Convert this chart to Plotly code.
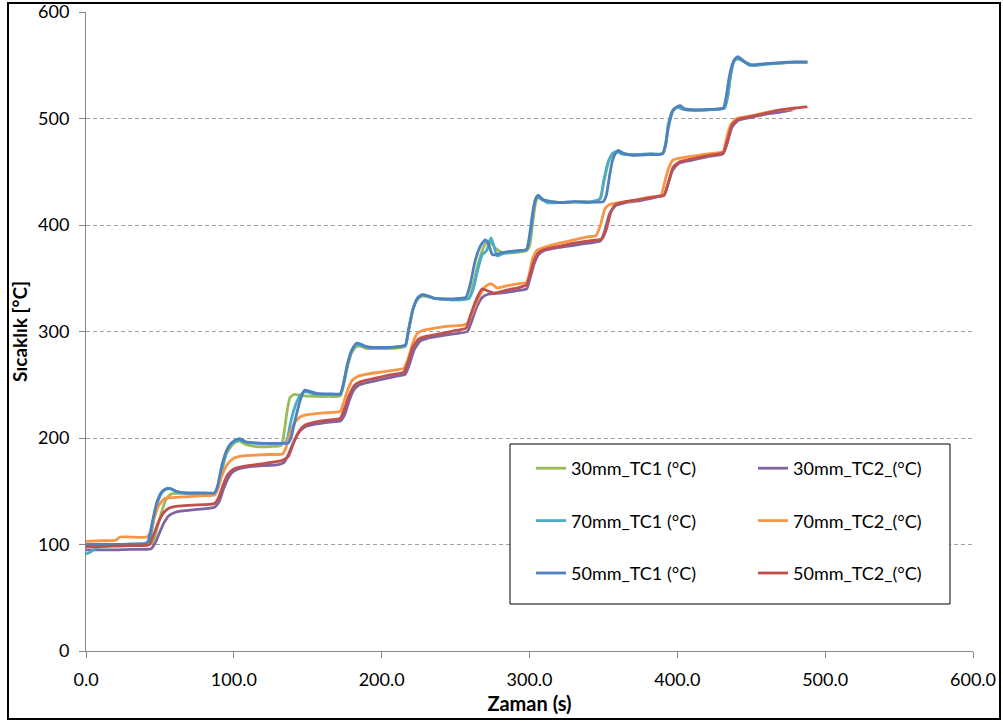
import plotly.graph_objects as go

# ---- data (time s, temperature °C) ----
tc1_30mm = [(0,99),(10,99),(20,99),(30,99.5),(40,100),(45,102),(48,115),(51,130),(54,142),(57,147),(60,148),(65,148),(75,147.5),(87,148),
            (89,152),(92,170),(95,185),(98,192),(101,196),(104,197),(108,194),(115,192),(125,192),(132,193),(134,205),(136,225),(138,238),
            (141,241),(145,240),(155,239),(165,239),(172,239.5),(174,248),(177,268),(180,281),(183,286),(186,286),(190,284),(200,284),
            (210,284.5),(216,286),(218,300),(221,320),(224,330),(227,333),(230,333),(236,331),(245,330),(255,330),(259,331),(262,345),
            (265,362),(268,376),(270,382),(272,385),(274,383),(277,378),(282,374),(290,374),(298,376),(300,380),(302,400),(304,420),
            (306,427),(309,424),(315,422),(325,421),(335,422),(346,422),(348,426),(351,445),(354,462),(357,467),(360,469),(364,467),
            (370,466),(380,466),(390,467),(392,475),(394,495),(397,508),(400,511),(403,509),(408,508),(418,508),(428,509),(432,510),
            (434,520),(436,540),(438,553),(440,556),(443,555),(447,552),(452,550),(460,551),(470,552),(480,553),(488,553)]

tc2_30mm = [(0,95),(10,95),(20,95),(30,95.5),(40,95.5),(44,96),(47,102),(50,112),(53,121),(56,127),(60,130),(65,131.5),(75,133),
            (87,135),(90,140),(93,152),(96,162),(99,168),(103,171),(110,173),(120,174),(130,175),(134,177),(137,185),(141,198),
            (145,207),(149,211),(155,213),(165,215),(172,216),(175,222),(178,235),(181,245),(185,250),(190,252),(200,255),(210,258),
            (216,260),(219,270),(222,283),(226,291),(232,294),(240,296),(250,298),(258,300),(261,310),(264,322),(268,332),(272,335),
            (280,336),(290,338),(298,340),(300,348),(303,363),(306,372),(310,376),(320,379),(330,381),(340,383),(348,385),(351,395),
            (354,410),(358,418),(365,421),(375,423),(385,426),(391,428),(394,440),(397,452),(401,458),(410,461),(420,464),(431,467),
            (434,478),(437,492),(441,498),(450,501),(460,504),(470,506),(478,508)]

tc1_70mm = [(0,91),(3,93),(6,96),(10,98),(20,99.5),(30,100),(40,100),(43,104),(46,125),(49,142),(52,150),(55,153),(58,152),(62,149),
            (70,148),(80,148),(87,148),(89,153),(92,172),(95,187),(98,194),(101,197),(104,198),(108,196),(115,195),(125,195),(134,195),
            (136,198),(138,212),(141,228),(144,238),(147,243),(150,243),(155,241),(165,241),(172,241),(174,250),(177,270),(180,283),
            (183,288),(186,287),(190,285.5),(200,285),(210,285.5),(216,287),(218,300),(221,320),(224,330),(227,334),(230,334),(236,331),
            (245,330),(255,330),(259,331),(262,340),(265,358),(268,372),(271,376),(274,388),(276,380),(278,371),(282,373),(290,375),
            (298,377),(301,395),(303,418),(305,427),(308,424),(312,421),(320,421),(330,422),(340,421),(348,425),(350,440),(353,458),
            (356,467),(359,469),(362,467),(366,466),(372,466),(382,467),(390,467),(392,475),(394,495),(397,508),(400,511),(403,509),
            (408,508),(418,508),(428,509),(432,510),(434,520),(436,540),(438,553),(440,556),(443,555),(447,552),(452,550),(460,551),
            (470,552),(480,553),(488,553)]

tc2_70mm = [(0,103),(10,103.5),(20,104),(23,107),(30,107),(41,107),(43,110),(46,124),(49,136),(53,143),(58,144),(70,145),(80,146),
            (87,146.5),(89,152),(92,165),(96,176),(100,181),(105,183),(115,184),(125,184.5),(133,185),(135,190),(138,204),(141,214),
            (145,220),(150,222),(160,223.5),(172,225),(174,232),(177,245),(180,254),(184,258),(190,260),(200,262),(210,264),(215,265.5),
            (218,275),(221,289),(224,298),(228,301),(235,303),(245,305),(255,306),(258,308),(262,320),(266,333),(270,342),(274,345),
            (278,341),(285,343),(293,345),(298,346),(300,355),(302,368),(305,376),(310,379),(320,383),(330,386),(340,389),(345,390),
            (348,400),(351,415),(354,419),(360,421),(370,423),(380,426),(389,428),(391,438),(394,453),(397,461),(403,463),(412,465),
            (422,467),(431,469),(433,480),(436,494),(440,500),(448,502),(458,505),(470,508),(480,509)]

tc1_50mm = [(0,100),(10,100),(20,100),(30,100.5),(40,101),(42,103),(45,122),(48,140),(51,149),(54,152),(57,152.5),(61,150),(68,148.5),
            (78,148.5),(87,148.5),(89,155),(92,175),(95,188),(98,195),(101,198),(104,199.5),(108,196.5),(115,195.5),(125,195),(137,195.5),
            (139,202),(142,220),(145,236),(148,245),(151,244),(156,242),(165,241.5),(172,241.5),(174,250),(177,270),(180,283),(183,289),
            (186,288),(190,285.5),(200,285),(210,285.5),(216,287),(218,300),(221,320),(224,331),(227,334.5),(230,334),(236,331),
            (245,330.5),(252,331),(257,332),(260,345),(263,365),(266,378),(268,383),(270,386),(272,383),(275,372),(279,373),(285,375),
            (292,376),(298,377),(300,390),(302,410),(304,424),(306,428),(309,424),(315,422),(322,421),(330,422),(340,421.5),(350,422),
            (352,428),(354,445),(356,460),(358,467),(360,470),(364,467),(370,465.5),(380,466),(390,467),(392,475),(394,492),(397,507),
            (400,511),(402,512),(405,509),(412,508),(422,508.5),(431,509.5),(433,520),(435,538),(437,550),(439,556),(441,558),(444,555),
            (449,550),(455,551),(465,552),(475,553),(488,553)]

tc2_50mm = [(0,98),(10,98),(20,98.5),(30,99),(40,99),(43,100),(46,110),(49,121),(52,129),(56,134),(62,136),(72,137),(87,138.5),
            (90,145),(93,157),(96,166),(100,171),(105,173),(115,175),(125,177),(133,179),(137,183),(140,194),(144,206),(148,212),
            (155,215),(165,217),(172,218.5),(175,228),(178,240),(182,250),(186,253),(195,256),(205,259),(215,262),(218,272),(221,285),
            (225,293),(230,295.5),(240,298),(250,301),(257,303),(260,315),(264,330),(268,340),(272,338),(276,336),(285,339),(292,341),
            (298,344),(300,352),(303,366),(306,374),(310,377),(320,380),(330,383),(340,385),(349,387),(352,396),(355,412),(358,419),
            (365,422),(375,424),(385,426.5),(391,428),(394,440),(397,454),(401,459),(410,462),(420,465),(431,468),(434,480),(437,494),
            (441,499),(450,502),(460,505),(470,508),(480,510),(488,511)]

series_names = ["30mm_TC1 (°C)", "30mm_TC2_(°C)", "70mm_TC1 (°C)", "70mm_TC2_(°C)", "50mm_TC1 (°C)", "50mm_TC2_(°C)"]
series_data = [tc1_30mm, tc2_30mm, tc1_70mm, tc2_70mm, tc1_50mm, tc2_50mm]
series_colors = ["#9BBB59", "#8064A2", "#4BACC6", "#F79646", "#4F81BD", "#C0504D"]
series_legend = ["legend", "legend2", "legend", "legend2", "legend", "legend2"]

x_ticks = [0, 100, 200, 300, 400, 500, 600]
y_ticks = [0, 100, 200, 300, 400, 500, 600]

FONT = "Lato"

fig = go.Figure()
for name, data, color, leg in zip(series_names, series_data, series_colors, series_legend):
    t = [p[0] for p in data]
    v = [p[1] for p in data]
    fig.add_trace(go.Scatter(x=t, y=v, mode="lines", name=name, legend=leg, legendgroup=name,
                             line=dict(color=color, width=2.8, shape="spline", smoothing=0.5)))

# plot area pixel geometry
L, R, T, B = 86, 30, 12, 72
W, H = 1003, 723
pw, ph = W - L - R, H - T - B

def px(xpix):
    return (xpix - L) / pw

def py(ypix):
    return (H - B - ypix) / ph

fig.update_layout(
    width=W, height=H,
    margin=dict(l=L, r=R, t=T, b=B, pad=0, autoexpand=False),
    paper_bgcolor="white", plot_bgcolor="white",
    font=dict(family=FONT, size=18, color="black"),
    xaxis=dict(range=[0, 600], tickvals=x_ticks, tickformat=".1f", automargin=False,
               showline=True, linecolor="#868686", linewidth=1,
               ticks="outside", ticklen=6, tickcolor="#868686",
               showgrid=False, zeroline=False, ticklabelstandoff=6,
               title=dict(text="<b>Zaman (s)</b>", font=dict(size=20, family=FONT), standoff=8)),
    yaxis=dict(range=[0, 600], tickvals=y_ticks, automargin=False,
               showline=True, linecolor="#868686", linewidth=1,
               ticks="outside", ticklen=6, tickcolor="#868686",
               showgrid=True, gridcolor="#A0A0A0", griddash="4px,3px", gridwidth=1,
               zeroline=False, ticklabelstandoff=6,
               title=dict(text="<b>Sıcaklık [°C]</b>", font=dict(size=19, family=FONT), standoff=5)),
    legend=dict(x=px(531), y=py(450), xanchor="left", yanchor="top", bgcolor="rgba(0,0,0,0)",
                borderwidth=0, tracegroupgap=26, font=dict(size=18, family=FONT)),
    legend2=dict(x=px(753), y=py(450), xanchor="left", yanchor="top", bgcolor="rgba(0,0,0,0)",
                 borderwidth=0, tracegroupgap=26, font=dict(size=18, family=FONT)),
    shapes=[
        dict(type="rect", xref="paper", yref="paper", x0=px(510), x1=px(950), y0=py(604), y1=py(444),
             line=dict(color="black", width=1), fillcolor="white", layer="above"),
        dict(type="rect", xref="paper", yref="paper", x0=px(8), x1=px(1000), y0=py(719), y1=py(3),
             line=dict(color="black", width=2), fillcolor="rgba(0,0,0,0)", layer="above"),
    ],
)

fig.write_html("out.html")
